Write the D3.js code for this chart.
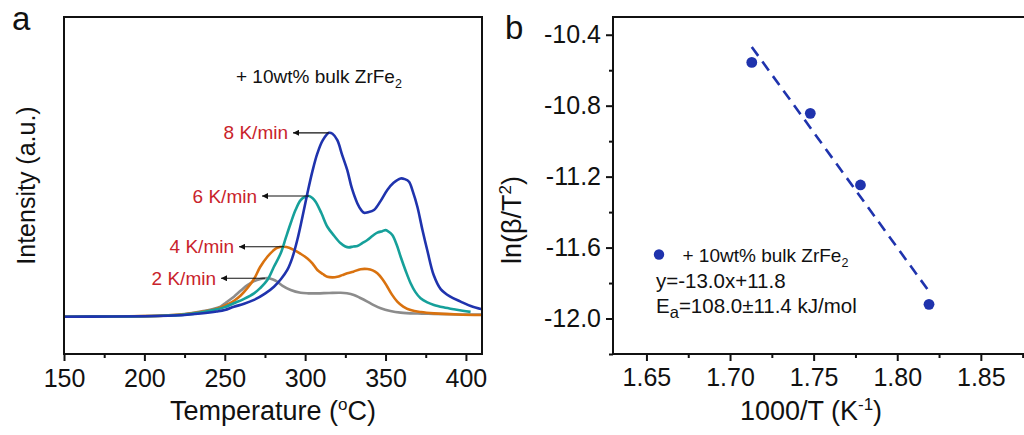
<!DOCTYPE html>
<html>
<head>
<meta charset="utf-8">
<script src="https://cdn.jsdelivr.net/npm/d3@7"></script>
<style>
  body { margin: 0; background: #fff; }
  svg { display: block; font-family: "Liberation Sans", Arial, Helvetica, sans-serif; }
</style>
</head>
<body>
<svg id="chart" width="1024" height="435"></svg>
<script>
// ---- Panel a: DSC traces, [temperature (°C), intensity (a.u.)] ----
const rate2 = [[150,0],[180,0.001],[200,0.003],[215,0.008],[225,0.015],[235,0.028],[242,0.040],[247.4,0.055],[251,0.078],[255.7,0.109],[260,0.142],[264.1,0.172],[268,0.192],[272.3,0.205],[275,0.209],[277.5,0.209],[280,0.202],[282.7,0.190],[286,0.168],[291,0.145],[297.2,0.130],[302,0.127],[307.6,0.127],[315,0.129],[322.1,0.130],[326,0.127],[330.3,0.118],[334,0.103],[338.7,0.082],[342,0.066],[347,0.046],[353,0.031],[359.4,0.022],[370,0.017],[380.1,0.015],[395,0.012],[410.2,0.011]];
const rate4 = [[150,0],[180,0.001],[200,0.003],[215,0.007],[225,0.013],[235,0.025],[242,0.036],[247.4,0.050],[252,0.068],[256,0.088],[259.9,0.115],[264,0.155],[268.2,0.205],[272,0.27],[276.5,0.326],[280,0.358],[282.7,0.375],[286.8,0.380],[290,0.375],[293,0.363],[297,0.343],[301.4,0.317],[304.5,0.29],[307.6,0.254],[311,0.232],[313.8,0.217],[317,0.214],[320,0.217],[323,0.226],[326.2,0.236],[330,0.245],[334.5,0.258],[338.7,0.259],[342,0.252],[344.9,0.236],[348,0.205],[351.1,0.163],[354,0.12],[357.3,0.082],[361,0.055],[365.6,0.036],[372,0.025],[380.1,0.018],[395,0.012],[410.2,0.009]];
const rate6 = [[150,0],[180,0.001],[200,0.002],[215,0.006],[225,0.011],[235,0.022],[245,0.040],[250,0.052],[255.7,0.073],[262,0.097],[268.2,0.127],[272,0.155],[276.5,0.199],[280.5,0.27],[284.8,0.345],[288,0.43],[291,0.508],[294,0.58],[297.2,0.634],[300,0.652],[302.4,0.656],[304.5,0.645],[306.5,0.625],[310,0.565],[313.8,0.489],[318,0.44],[322.1,0.399],[325,0.382],[327.2,0.377],[330,0.382],[332.5,0.384],[335.5,0.40],[338.7,0.417],[342,0.44],[344.9,0.457],[348,0.465],[350.1,0.471],[352,0.462],[354.2,0.444],[357,0.39],[359.4,0.326],[362.5,0.25],[365.6,0.182],[368.5,0.135],[371.8,0.100],[376,0.078],[380.1,0.064],[386,0.051],[392.5,0.040],[398,0.032],[402.9,0.026]];
const rate8 = [[150,0],[180,0.001],[200,0.002],[215,0.005],[225,0.009],[235,0.017],[245,0.028],[250,0.036],[255.7,0.054],[262,0.07],[268.2,0.091],[275,0.125],[280.6,0.163],[285,0.205],[288.9,0.254],[292,0.32],[295.1,0.417],[298,0.53],[301.4,0.671],[304.5,0.79],[307.6,0.888],[311,0.96],[314.8,1.0],[317,0.995],[320,0.96],[323,0.88],[326.2,0.797],[329,0.7],[332.5,0.616],[335,0.578],[336.6,0.565],[339,0.568],[342.8,0.580],[347,0.63],[351.1,0.689],[355,0.728],[359.4,0.752],[362,0.748],[364.6,0.734],[367,0.68],[369.8,0.598],[373,0.47],[376,0.36],[380,0.225],[384.3,0.15],[390,0.11],[396.7,0.082],[403,0.058],[410.2,0.040]];
const rateLabels = ["2 K/min", "4 K/min", "6 K/min", "8 K/min"];
const rateColors = ["#8c8c8c", "#d9720f", "#16a09a", "#1f33ad"];
const tempTicks = [150, 200, 250, 300, 350, 400];
const tempMinorTicks = [175, 225, 275, 325, 375];
const sampleLabel = "+ 10wt% bulk ZrFe";

// ---- Panel b: Kissinger plot ----
const invT = [1.713, 1.748, 1.778, 1.819];
const lnBT2 = [-10.556, -10.843, -11.247, -11.92];
const fitSlope = -13.0;
const fitIntercept = 11.8;
const fitSpan = [1.713, 1.8196];
const eaText = "=108.0±11.4 kJ/mol";
const invTTicks = [1.65, 1.70, 1.75, 1.80, 1.85];
const invTMinorTicks = [1.675, 1.725, 1.775, 1.825, 1.875];
const lnTicks = [-10.4, -10.8, -11.2, -11.6, -12.0];
const lnMinorTicks = [-10.6, -11.0, -11.4, -11.8, -12.2];

const svg = d3.select("#chart");
const black = "#111";
const defs = svg.append("defs");

// ================= Panel a =================
const A = { left: 64, right: 482, top: 17, bottom: 354 };
const xA = d3.scaleLinear().domain([150, 410]).range([A.left, A.right]);
const yA = d3.scaleLinear().domain([-0.203, 1.63]).range([A.bottom, A.top]);

defs.append("clipPath").attr("id", "clipA")
  .append("rect").attr("x", A.left).attr("y", A.top)
  .attr("width", A.right - A.left).attr("height", A.bottom - A.top);

const lineA = d3.line().x(d => xA(d[0])).y(d => yA(d[1])).curve(d3.curveCatmullRom.alpha(0.5));
const traces = [rate2, rate4, rate6, rate8];
const gTraces = svg.append("g").attr("clip-path", "url(#clipA)");
traces.forEach((s, i) => {
  gTraces.append("path").datum(s).attr("d", lineA)
    .attr("fill", "none").attr("stroke", rateColors[i])
    .attr("stroke-width", 2.6).attr("stroke-linejoin", "round");
});

// frame
svg.append("rect").attr("x", A.left).attr("y", A.top)
  .attr("width", A.right - A.left).attr("height", A.bottom - A.top)
  .attr("fill", "none").attr("stroke", black).attr("stroke-width", 2);

// x axis
const axA = svg.append("g").attr("transform", `translate(0,${A.bottom})`)
  .call(d3.axisBottom(xA).tickValues(tempTicks).tickSize(7).tickPadding(8).tickFormat(d3.format("d")));
axA.select(".domain").remove();
axA.selectAll("line").attr("stroke", black).attr("stroke-width", 2);
axA.selectAll("text").attr("font-size", 25).attr("fill", black).attr("font-family", null);
const axAm = svg.append("g").attr("transform", `translate(0,${A.bottom})`)
  .call(d3.axisBottom(xA).tickValues(tempMinorTicks).tickSize(4).tickFormat(""));
axAm.select(".domain").remove();
axAm.selectAll("line").attr("stroke", black).attr("stroke-width", 2);

// axis titles
const tTitle = svg.append("text").attr("x", (A.left + A.right) / 2).attr("y", 420)
  .attr("text-anchor", "middle").attr("font-size", 27).attr("fill", black);
tTitle.append("tspan").text("Temperature (");
tTitle.append("tspan").attr("font-size", 17).attr("dy", -10).text("o");
tTitle.append("tspan").attr("dy", 10).text("C)");

svg.append("text").attr("transform", `translate(35,${(A.top + A.bottom) / 2}) rotate(-90)`)
  .attr("text-anchor", "middle").attr("font-size", 25).attr("fill", black)
  .text("Intensity (a.u.)");

// sample note
const note = svg.append("text").attr("x", 236).attr("y", 83).attr("font-size", 19).attr("fill", black);
note.append("tspan").text(sampleLabel);
note.append("tspan").attr("font-size", 12.5).attr("dy", 5).text("2");

// heating-rate labels with arrows pointing to the main peaks
const arrowTipX = [221, 239, 262, 293];
defs.append("marker").attr("id", "head")
  .attr("viewBox", "0 0 10 10").attr("refX", 0).attr("refY", 5)
  .attr("markerWidth", 8).attr("markerHeight", 6).attr("orient", "auto")
  .attr("markerUnits", "userSpaceOnUse")
  .append("path").attr("d", "M10,0 L0,5 L10,10 Z").attr("fill", black);
traces.forEach((s, i) => {
  const peak = d3.greatest(s.filter(d => d[0] < 330), d => d[1]);
  const py = yA(peak[1]);
  svg.append("line").attr("x1", arrowTipX[i]).attr("y1", py)
    .attr("x2", xA(peak[0])).attr("y2", py)
    .attr("stroke", black).attr("stroke-width", 1.1)
    .attr("marker-start", "url(#head)");
  svg.append("text").attr("x", arrowTipX[i] - 5).attr("y", py + 6.5)
    .attr("text-anchor", "end").attr("font-size", 19).attr("fill", "#c9232b")
    .text(rateLabels[i]);
});

svg.append("text").attr("x", 12).attr("y", 30).attr("font-size", 33).attr("fill", black).text("a");

// ================= Panel b =================
const B = { left: 613, right: 1031, top: 17, bottom: 354 };
const xB = d3.scaleLinear().domain([1.63, 1.88]).range([B.left, B.right]);
const yB = d3.scaleLinear().domain([-12.2, -10.3]).range([B.bottom, B.top]);

svg.append("path")
  .attr("d", `M${B.right},${B.top} H${B.left} V${B.bottom} H${B.right}`)
  .attr("fill", "none").attr("stroke", black).attr("stroke-width", 2);

const axBx = svg.append("g").attr("transform", `translate(0,${B.bottom})`)
  .call(d3.axisBottom(xB).tickValues(invTTicks).tickSize(7).tickPadding(7).tickFormat(d3.format(".2f")));
axBx.select(".domain").remove();
const axBxm = svg.append("g").attr("transform", `translate(0,${B.bottom})`)
  .call(d3.axisBottom(xB).tickValues(invTMinorTicks).tickSize(4).tickFormat(""));
axBxm.select(".domain").remove();

const axBy = svg.append("g").attr("transform", `translate(${B.left},0)`)
  .call(d3.axisLeft(yB).tickValues(lnTicks).tickSize(7).tickPadding(5).tickFormat(d3.format(".1f")));
axBy.select(".domain").remove();
const axBym = svg.append("g").attr("transform", `translate(${B.left},0)`)
  .call(d3.axisLeft(yB).tickValues(lnMinorTicks).tickSize(4).tickFormat(""));
axBym.select(".domain").remove();

[axBx, axBxm, axBy, axBym].forEach(g => g.selectAll("line").attr("stroke", black).attr("stroke-width", 2));
[axBx, axBy].forEach(g => g.selectAll("text").attr("font-size", 25).attr("fill", black).attr("font-family", null));
axBy.selectAll("text").text(d => d3.format(".1f")(d).replace("−", "-"));

const xbTitle = svg.append("text").attr("x", 811).attr("y", 420)
  .attr("text-anchor", "middle").attr("font-size", 27).attr("fill", black);
xbTitle.append("tspan").text("1000/T (K");
xbTitle.append("tspan").attr("font-size", 17).attr("dy", -10).text("-1");
xbTitle.append("tspan").attr("dy", 10).text(")");

const ybTitle = svg.append("text").attr("transform", "translate(521,220) rotate(-90)")
  .attr("text-anchor", "middle").attr("font-size", 27).attr("fill", black);
ybTitle.append("tspan").text("ln(β/T");
ybTitle.append("tspan").attr("font-size", 17).attr("dy", -10).text("2");
ybTitle.append("tspan").attr("dy", 10).text(")");

const blue = "#1f33ad";
// linear fit y = slope·x + intercept
svg.append("line")
  .attr("x1", xB(fitSpan[0])).attr("y1", yB(fitSlope * fitSpan[0] + fitIntercept))
  .attr("x2", xB(fitSpan[1])).attr("y2", yB(fitSlope * fitSpan[1] + fitIntercept))
  .attr("stroke", blue).attr("stroke-width", 2.6).attr("stroke-dasharray", "11,7");

svg.append("g").selectAll("circle").data(invT).join("circle")
  .attr("cx", d => xB(d)).attr("cy", (d, i) => yB(lnBT2[i]))
  .attr("r", 5.4).attr("fill", blue);

// legend and fit results
svg.append("circle").attr("cx", 659).attr("cy", 254.5).attr("r", 5.2).attr("fill", blue);
const lg1 = svg.append("text").attr("x", 682.5).attr("y", 262).attr("font-size", 19).attr("fill", black);
lg1.append("tspan").text(sampleLabel);
lg1.append("tspan").attr("font-size", 12.5).attr("dy", 5).text("2");

svg.append("text").attr("x", 656).attr("y", 288).attr("font-size", 20.5).attr("fill", black)
  .text(`y=${fitSlope.toFixed(1)}x+${fitIntercept.toFixed(1)}`);

const ea = svg.append("text").attr("x", 656).attr("y", 313).attr("font-size", 20.5).attr("fill", black);
ea.append("tspan").text("E");
ea.append("tspan").attr("font-size", 16.5).attr("dy", 5).text("a");
ea.append("tspan").attr("dy", -5).text(eaText);

svg.append("text").attr("x", 505).attr("y", 39).attr("font-size", 33).attr("fill", black).text("b");
</script>
</body>
</html>
